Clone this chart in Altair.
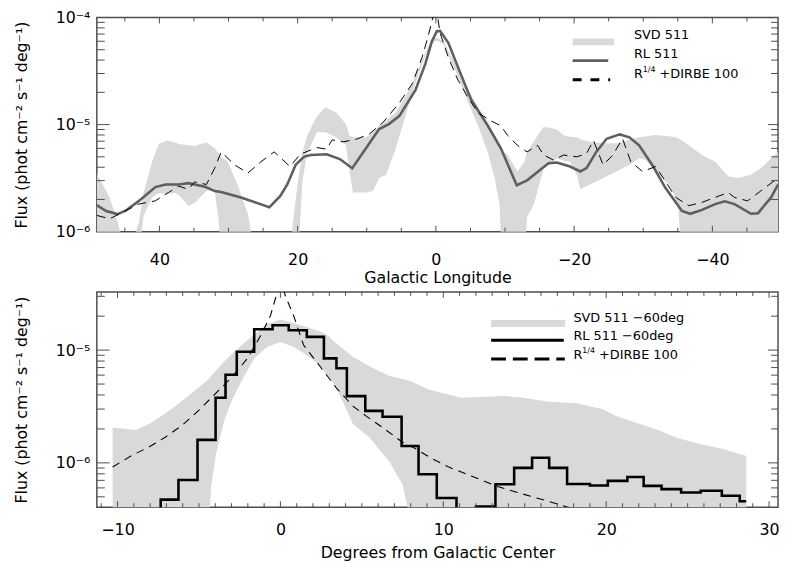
import altair as alt
import pandas as pd

FONT = "DejaVu Sans"
FRAME = "#4d4d4d"
BAND = "#d9d9d9"

# ---------------- top panel data (Galactic longitude) ----------------
top_band_l = [49.05, 47.2, 46.0, 45.3, 44.0, 43.3, 43.0, 42.3, 41.05, 40.1, 38.9, 37.7, 37.2, 35.8,
              34.9, 34.4, 33.2, 32.3, 32.0, 31.5, 30.9, 30.1, 28.7, 27.2, 26.5, 21.0, 20.3, 19.8,
              19.3, 18.6, 17.2, 16.0, 14.4, 13.0, 12.5, 12.0, 10.1, 9.1, 8.2, 7.2, 5.8, 4.4, 3.0,
              1.5, 0.57, -0.14, -1.1, -2.8, -4.7, -6.1, -7.5, -8.5, -9.2, -9.6, -10.4, -11.8,
              -12.8, -13.2, -14.2, -14.7, -15.6, -16.3, -17.5, -18.5, -19.4, -20.4, -20.9, -22.3,
              -24.2, -26.1, -28.0, -29.4, -30.4, -31.8, -33.7, -34.7, -35.1, -35.6, -36.6, -38.5,
              -40.4, -42.3, -43.7, -45.6, -47.0, -48.5, -49.5]
top_band_hi = [3.5e-6, 2.1e-6, 1.2e-6, 8e-7, 8e-7, 1.05e-6, 1.2e-6, 2.3e-6, 4.5e-6, 6.6e-6, 7.1e-6,
               6.8e-6, 6.6e-6, 6.4e-6, 6.3e-6, 6.5e-6, 6.8e-6, 6.2e-6, 6.0e-6, 5.4e-6, 4.9e-6,
               4.5e-6, 2.76e-6, 1.47e-6, 8e-7, 8e-7, 2.0e-6, 3.5e-6, 5.5e-6, 8.0e-6, 1.2e-5,
               1.45e-5, 1.3e-5, 1.01e-5, 7.9e-6, 7.6e-6, 7.6e-6, 8.5e-6, 9.75e-6, 1.1e-5, 1.3e-5,
               1.83e-5, 2.8e-5, 4.7e-5, 6.25e-5, 6.5e-5, 6.0e-5, 3.69e-5, 2.1e-5, 1.45e-5, 1.0e-5,
               7.9e-6, 6.3e-6, 5.7e-6, 5.2e-6, 3.65e-6, 4.5e-6, 5.56e-6, 7.0e-6, 7.9e-6, 9.5e-6,
               9.4e-6, 9.0e-6, 7.9e-6, 7.7e-6, 7.6e-6, 7.3e-6, 6.9e-6, 6.7e-6, 6.7e-6, 7.2e-6,
               7.6e-6, 7.8e-6, 8.0e-6, 7.8e-6, 7.6e-6, 7.4e-6, 7.1e-6, 6.4e-6, 5.2e-6, 4.5e-6,
               3.29e-6, 3.18e-6, 3.4e-6, 3.92e-6, 4.84e-6, 5.56e-6]
top_band_lo = [5e-7, 5e-7, 5e-7, 5e-7, 5e-7, 5e-7, 5e-7, 1.4e-6, 2.1e-6, 2.3e-6, 2.25e-6, 2.3e-6,
               2.2e-6, 1.75e-6, 1.85e-6, 2.0e-6, 2.4e-6, 2.6e-6, 2.4e-6, 1.4e-6, 5e-7, 5e-7, 5e-7,
               5e-7, 5e-7, 5e-7, 5e-7, 8e-7, 3.0e-6, 5.5e-6, 8.5e-6, 8.5e-6, 7.6e-6, 6.4e-6,
               3.65e-6, 2.32e-6, 2.32e-6, 2.4e-6, 3.18e-6, 3.4e-6, 6.0e-6, 1.2e-5, 2.4e-5, 4.4e-5,
               5.8e-5, 6.1e-5, 5.6e-5, 3.2e-5, 1.59e-5, 9.75e-6, 5.56e-6, 3.18e-6, 1.81e-6, 5e-7,
               5e-7, 5e-7, 5e-7, 1.37e-6, 1.81e-6, 2.4e-6, 3.9e-6, 4.2e-6, 4.84e-6, 4.6e-6, 4.5e-6,
               3.4e-6, 2.49e-6, 2.76e-6, 3.18e-6, 3.65e-6, 4.2e-6, 4.84e-6, 4.67e-6, 3.65e-6,
               2.76e-6, 2.09e-6, 1.57e-6, 5e-7, 5e-7, 5e-7, 5e-7, 5e-7, 5e-7, 5e-7, 5e-7, 5e-7, 5e-7]

top_rl_l = [49.06, 47.7, 46.06, 44.9, 42.96, 40.57, 39.1, 37.2, 35.8, 33.4, 32.0, 31.06, 28.2, 25.8,
            24.1, 22.5, 21.5, 20.3, 19.1, 18.1, 16.5, 15.8, 13.9, 12.1, 8.2, 6.8, 5.3, 2.96, 1.53,
            0.57, -0.14, -0.6, -1.8, -3.2, -5.1, -7.5, -9.4, -11.7, -13.2, -15.1, -16.3, -17.5,
            -19.4, -20.9, -21.8, -23.2, -24.7, -26.6, -28.0, -29.4, -31.3, -33.2, -34.7, -35.6,
            -36.8, -38.5, -40.4, -41.8, -43.2, -45.6, -46.6, -48.5, -49.5]
top_rl_v = [1.77e-6, 1.56e-6, 1.46e-6, 1.57e-6, 1.94e-6, 2.61e-6, 2.76e-6, 2.76e-6, 2.84e-6, 2.63e-6,
            2.4e-6, 2.35e-6, 2.09e-6, 1.85e-6, 1.69e-6, 2.16e-6, 2.76e-6, 4.2e-6, 5.0e-6, 5.2e-6,
            5.25e-6, 5.27e-6, 4.77e-6, 3.92e-6, 9.1e-6, 1.01e-5, 1.2e-5, 2.1e-5, 3.69e-5, 6.0e-5,
            7.45e-5, 7.5e-5, 5.8e-5, 3.44e-5, 1.71e-5, 9.8e-6, 6.0e-6, 2.72e-6, 3.02e-6, 3.79e-6,
            4.36e-6, 4.42e-6, 4.06e-6, 3.65e-6, 3.92e-6, 5.56e-6, 7.38e-6, 8.1e-6, 7.6e-6, 6.4e-6,
            4.2e-6, 2.57e-6, 1.88e-6, 1.56e-6, 1.47e-6, 1.6e-6, 1.81e-6, 1.92e-6, 1.81e-6, 1.47e-6,
            1.49e-6, 2.09e-6, 2.76e-6]

top_model_l = [49.06, 47.2, 45.3, 43.0, 40.6, 38.7, 37.2, 35.8, 34.9, 33.2, 32.0, 31.06, 29.1, 27.2,
               25.3, 23.4, 21.1, 19.6, 17.2, 15.8, 15.0, 13.4, 11.5, 9.6, 7.7, 5.3, 3.4, 2.0, 1.06,
               0.0, -0.6, -1.8, -3.2, -4.7, -6.1, -8.0, -9.4, -10.4, -11.8, -13.2, -14.7, -15.6,
               -17.0, -18.5, -20.4, -21.8, -22.8, -24.2, -25.6, -27.0, -28.2, -29.9, -31.8, -33.2,
               -34.7, -36.6, -38.5, -40.4, -42.3, -43.2, -45.1, -47.0, -49.5]
top_model_v = [1.42e-6, 1.32e-6, 1.52e-6, 1.81e-6, 1.94e-6, 2.32e-6, 2.66e-6, 2.49e-6, 2.92e-6,
               2.76e-6, 3.92e-6, 5.56e-6, 4.2e-6, 3.53e-6, 4.5e-6, 5.56e-6, 4.06e-6, 5.3e-6, 6.1e-6,
               5.9e-6, 7.2e-6, 6.9e-6, 7.3e-6, 8.2e-6, 1.04e-5, 1.59e-5, 2.42e-5, 4.24e-5, 6.9e-5,
               1.3e-4, 7.2e-5, 4.24e-5, 2.6e-5, 1.77e-5, 1.29e-5, 1.08e-5, 9.75e-6, 7.9e-6, 6.4e-6,
               5.56e-6, 6.4e-6, 5.2e-6, 4.67e-6, 5.2e-6, 5.0e-6, 5.37e-6, 7.1e-6, 4.2e-6, 5.2e-6,
               7.4e-6, 4.5e-6, 3.65e-6, 4.06e-6, 2.96e-6, 2.09e-6, 1.75e-6, 1.88e-6, 2.09e-6,
               2.32e-6, 2.09e-6, 1.94e-6, 2.4e-6, 3.18e-6]

top_x_major = [40, 20, 0, -20, -40]
top_x_minor = [45, 35, 30, 25, 15, 10, 5, -5, -10, -15, -25, -30, -35, -45]
top_y_major = [1e-5]
top_y_minor = [k * 1e-6 for k in range(2, 10)] + [k * 1e-5 for k in range(2, 10)]
top_y_labels = [1e-6, 1e-5, 1e-4]

# ---------------- bottom panel data (degrees from GC) ----------------
bot_band_x = [-10.3, -8.9, -8.0, -6.7, -5.65, -4.45, -4.25, -3.95, -3.45, -3.0, -2.4, -1.6, -0.8,
              0.0, 0.8, 1.6, 2.4, 2.85, 3.45, 4.45, 5.45, 6.7, 7.5, 8.0, 9.1, 11.1, 13.74, 14.95,
              16.47, 18.2, 19.8, 20.6, 21.8, 23.03, 24.24, 25.66, 27.07, 28.6]
bot_band_hi = [2.06e-6, 1.96e-6, 2.24e-6, 2.99e-6, 3.91e-6, 5.47e-6, 5.9e-6, 6.6e-6, 7.9e-6,
               9.2e-6, 1.1e-5, 1.38e-5, 1.7e-5, 1.87e-5, 1.74e-5, 1.6e-5, 1.47e-5, 1.37e-5,
               1.14e-5, 8.74e-6, 7.2e-6, 5.9e-6, 5.55e-6, 5.3e-6, 4.47e-6, 3.78e-6, 3.91e-6,
               3.78e-6, 3.48e-6, 3.38e-6, 2.99e-6, 2.61e-6, 2.28e-6, 2.0e-6, 1.69e-6, 1.48e-6,
               1.34e-6, 1.15e-6]
bot_band_lo = [2e-7, 2e-7, 2e-7, 2e-7, 2e-7, 2e-7, 6.2e-7, 1.21e-6, 2.36e-6, 3.53e-6, 5.28e-6,
               8.45e-6, 1.07e-5, 1.18e-5, 1.07e-5, 9.04e-6, 7.39e-6, 6.04e-6, 4.61e-6, 2.21e-6,
               1.69e-6, 1.02e-6, 6.4e-7, 3e-7, 2e-7, 2e-7, 2e-7, 2e-7, 2e-7, 2e-7, 2e-7, 2e-7,
               2e-7, 2e-7, 2e-7, 2e-7, 2e-7, 2e-7]

bot_rl_edges = [-8.4, -7.35, -6.26, -5.09, -3.98, -3.37, -2.68, -1.61, -0.48, 0.51, 1.62, 2.67,
                3.44, 4.08, 5.21, 6.27, 7.44, 8.48, 9.6, 10.81, 12.0, 13.2, 14.35, 15.45, 16.5,
                17.6, 19.0, 20.1, 21.3, 22.3, 23.4, 24.6, 25.8, 27.1, 28.2, 28.6]
bot_rl_v = [2e-7, 4.72e-7, 7.06e-7, 1.60e-6, 3.78e-6, 6.04e-6, 9.66e-6, 1.53e-5, 1.66e-5, 1.50e-5,
            1.31e-5, 8.45e-6, 6.91e-6, 3.91e-6, 2.89e-6, 2.56e-6, 1.41e-6, 7.92e-7, 4.89e-7, 2e-7,
            4.1e-7, 6.47e-7, 9.03e-7, 1.11e-6, 9.03e-7, 6.5e-7, 6.29e-7, 6.92e-7, 7.5e-7, 6.25e-7,
            5.85e-7, 5.47e-7, 5.66e-7, 5.12e-7, 4.56e-7, 4.56e-7]

bot_model_x = [-10.3, -9.09, -8.08, -7.07, -6.06, -5.05, -4.04, -3.03, -2.02, -1.21, -0.61, -0.2,
               0.0, 0.3, 0.81, 1.42, 2.3, 3.44, 4.45, 5.25, 6.27, 7.48, 8.28, 9.3, 10.3, 11.3,
               12.33, 13.33, 14.35, 15.36, 16.47, 17.5, 18.0]
bot_model_v = [9.2e-7, 1.17e-6, 1.38e-6, 1.69e-6, 2.14e-6, 2.89e-6, 4.04e-6, 5.65e-6, 8.45e-6,
               1.35e-5, 2.02e-5, 3.24e-5, 4.5e-5, 3.03e-5, 2.02e-5, 1.11e-5, 7.6e-6, 4.61e-6,
               3.19e-6, 2.61e-6, 2.06e-6, 1.53e-6, 1.34e-6, 1.09e-6, 9.22e-7, 8.08e-7, 7.06e-7,
               6.17e-7, 5.58e-7, 5.05e-7, 4.56e-7, 4.1e-7, 3.9e-7]

bot_x_major = [-10, 0, 10, 20, 30]
bot_x_minor = [v for v in range(-11, 31) if v % 10 != 0]
bot_y_major = [1e-6, 1e-5]
bot_y_minor = [k * 1e-7 for k in range(5, 10)] + [k * 1e-6 for k in range(2, 10)] + [2e-5, 3e-5]

top_legend = ["SVD 511", "RL 511", "+DIRBE 100"]
bot_legend = ["SVD 511 \u221260deg", "RL 511 \u221260deg", "+DIRBE 100"]

W = 690
H_TOP = 217
H_BOT = 218

YTITLE = "Flux (phot cm\u207b\u00b2 s\u207b\u00b9 deg\u207b\u00b9)"
LABEL_EXPR = ("'10\u207b' + ['\u2070','\u00b9','\u00b2','\u00b3','\u2074','\u2075','\u2076',"
              "'\u2077','\u2078','\u2079'][round(-log(datum.value)/LN10)]")


def ticks(xscale, yscale, xmaj, xmin, ymaj, ymin, H):
    out = []
    for vals, L in ((xmaj, 6), (xmin, 4)):
        d = pd.DataFrame({"l": vals})
        for y0, y1 in ((H, H - L), (0, L)):
            out.append(alt.Chart(d).mark_rule(color=FRAME, strokeWidth=1).encode(
                x=alt.X("l:Q", scale=xscale), y=alt.value(y0), y2=alt.value(y1)))
    for vals, Ll, Lr in ((ymaj, 13, 10), (ymin, 8, 7)):
        d = pd.DataFrame({"lo": vals})
        for x0, x1 in ((0, Ll), (W, W - Lr)):
            out.append(alt.Chart(d).mark_rule(color=FRAME, strokeWidth=1).encode(
                y=alt.Y("lo:Q", scale=yscale), x=alt.value(x0), x2=alt.value(x1)))
    return out


def legend(labels, x0, x1, xt, yr, yl, yd, line_color, dash, xr, xd, toff):
    one = pd.DataFrame({"a": [0]})
    out = [
        alt.Chart(one).mark_rect(color=BAND).encode(
            x=alt.value(x0), x2=alt.value(x1), y=alt.value(yr - 3.5), y2=alt.value(yr + 3.5)),
        alt.Chart(one).mark_rule(color=line_color, strokeWidth=3).encode(
            x=alt.value(x0), x2=alt.value(xr), y=alt.value(yl)),
        alt.Chart(one).mark_rule(color="black", strokeWidth=3, strokeDash=dash).encode(
            x=alt.value(x0), x2=alt.value(xd), y=alt.value(yd)),
    ]
    ys = [yr + toff[0], yl + toff[1], yd + toff[2]]
    for lab, y in zip(labels[:2], ys[:2]):
        out.append(alt.Chart(one).mark_text(text=lab, align="left", baseline="middle",
                                            font=FONT, fontSize=13, color="black").encode(
            x=alt.value(xt), y=alt.value(y)))
    out.append(alt.Chart(one).mark_text(text="R", align="left", baseline="middle",
                                        font=FONT, fontSize=13, color="black").encode(
        x=alt.value(xt), y=alt.value(ys[2])))
    out.append(alt.Chart(one).mark_text(text="1/4", align="left", baseline="middle",
                                        font=FONT, fontSize=8, color="black").encode(
        x=alt.value(xt + 9), y=alt.value(ys[2] - 4)))
    out.append(alt.Chart(one).mark_text(text=labels[2], align="left", baseline="middle",
                                        font=FONT, fontSize=13, color="black").encode(
        x=alt.value(xt + 26), y=alt.value(ys[2])))
    return out


# ---------------- top panel ----------------
tx = alt.Scale(domain=[49.05, -49.5], nice=False, zero=False)
ty = alt.Scale(type="log", domain=[1e-6, 1e-4], nice=False)

xaxis_top = alt.Axis(values=top_x_major, title="Galactic Longitude", ticks=False, domain=False,
                     grid=False, labelPadding=20, titlePadding=2, format="d")
yaxis_top = alt.Axis(values=top_y_labels, title=YTITLE, ticks=False, domain=False, grid=False,
                     labelExpr=LABEL_EXPR, labelPadding=7, titlePadding=26)

df_tb = pd.DataFrame({"l": top_band_l, "hi": top_band_hi, "lo": top_band_lo})
df_tr = pd.DataFrame({"l": top_rl_l, "lo": top_rl_v})
df_tm = pd.DataFrame({"l": top_model_l, "lo": top_model_v})

t_band = alt.Chart(df_tb).mark_area(color=BAND, clip=True).encode(
    x=alt.X("l:Q", scale=tx, axis=xaxis_top),
    y=alt.Y("lo:Q", scale=ty, axis=yaxis_top), y2="hi:Q")
t_rl = alt.Chart(df_tr).mark_line(color="#5f5f5f", strokeWidth=2.6, clip=True).encode(
    x=alt.X("l:Q", scale=tx), y=alt.Y("lo:Q", scale=ty))
t_model = alt.Chart(df_tm).mark_line(color="black", strokeWidth=1, strokeDash=[9, 6],
                                     clip=True).encode(
    x=alt.X("l:Q", scale=tx), y=alt.Y("lo:Q", scale=ty))

top = alt.layer(
    t_band, t_rl, t_model,
    *ticks(tx, ty, top_x_major, top_x_minor, top_y_major, top_y_minor, H_TOP),
    *legend(top_legend, 482, 524, 544, 24.7, 43.7, 63.0, "#5f5f5f", [9, 9], 518, 520,
            (-6.5, -7, -6)),
).properties(width=W, height=H_TOP)

# ---------------- bottom panel ----------------
bx = alt.Scale(domain=[-11.27, 30.55], nice=False, zero=False)
by = alt.Scale(type="log", domain=[4.05e-7, 3.28e-5], nice=False)

xaxis_bot = alt.Axis(values=bot_x_major, title="Degrees from Galactic Center", ticks=False,
                     domain=False, grid=False, labelPadding=15, titlePadding=7, format="d")
yaxis_bot = alt.Axis(values=bot_y_major, title=YTITLE, ticks=False, domain=False, grid=False,
                     labelExpr=LABEL_EXPR, labelPadding=7, titlePadding=26)

df_bb = pd.DataFrame({"l": bot_band_x, "hi": bot_band_hi, "lo": bot_band_lo})
df_br = pd.DataFrame({"l": bot_rl_edges, "lo": bot_rl_v})
df_bm = pd.DataFrame({"l": bot_model_x, "lo": bot_model_v})

b_band = alt.Chart(df_bb).mark_area(color=BAND, clip=True).encode(
    x=alt.X("l:Q", scale=bx, axis=xaxis_bot),
    y=alt.Y("lo:Q", scale=by, axis=yaxis_bot), y2="hi:Q")
b_rl = alt.Chart(df_br).mark_line(color="black", strokeWidth=2.6, interpolate="step-after",
                                  clip=True).encode(
    x=alt.X("l:Q", scale=bx), y=alt.Y("lo:Q", scale=by))
b_model = alt.Chart(df_bm).mark_line(color="black", strokeWidth=1.1, strokeDash=[8, 6],
                                     clip=True).encode(
    x=alt.X("l:Q", scale=bx), y=alt.Y("lo:Q", scale=by))

bottom = alt.layer(
    b_band, b_rl, b_model,
    *ticks(bx, by, bot_x_major, bot_x_minor, bot_y_major, bot_y_minor, H_BOT),
    *legend(bot_legend, 399.4, 474.4, 482.7, 32.0, 49.0, 68.0, "black", [15, 7], 473, 474,
            (-6, -4, -4)),
).properties(width=W, height=H_BOT)

chart = alt.vconcat(top, bottom, spacing=4).properties(
    padding={"left": 5, "top": -3, "right": 0, "bottom": 0}
).configure_view(stroke=FRAME, strokeWidth=1.5).configure_axis(
    labelFont=FONT, titleFont=FONT, labelFontSize=16, titleFontSize=16,
    titleFontWeight="normal", labelColor="black", titleColor="black"
)

chart.save("out.html", embed_options={"renderer": "svg", "actions": False})
